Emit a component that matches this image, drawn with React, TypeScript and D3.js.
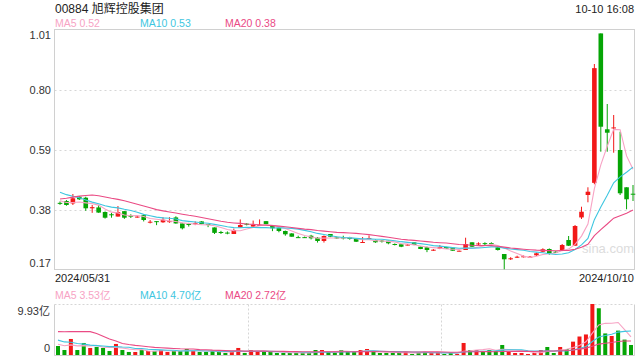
import React from "react";
import * as d3 from "d3";

const title = "00884 旭辉控股集团";
const timeLabel = "10-10 16:08";
const dateLabels = ["2024/05/31", "2024/10/10"];
const priceTicks = [1.01, 0.8, 0.59, 0.38, 0.17];
const priceLegend = ["MA5 0.52", "MA10 0.53", "MA20 0.38"];
const volLegend = ["MA5 3.53亿", "MA10 4.70亿", "MA20 2.72亿"];
const volTickLabels = ["9.93亿", "0"];
const volMax = 9.93;

const opens = [0.405,0.4115,0.403,0.4265,0.423,0.386,0.389,0.373,0.365,0.357,0.376,0.36,0.355,0.362,0.337,0.341,0.337,0.339,0.354,0.333,0.331,0.332,0.34,0.331,0.319,0.303,0.301,0.296,0.319,0.332,0.322,0.326,0.341,0.325,0.318,0.3065,0.298,0.285,0.285,0.29,0.283,0.2715,0.296,0.284,0.284,0.284,0.2785,0.266,0.28,0.275,0.273,0.2725,0.261,0.26,0.257,0.267,0.2515,0.2495,0.239,0.2445,0.2505,0.248,0.236,0.24,0.267,0.262,0.264,0.264,0.2495,0.226,0.209,0.215,0.217,0.2155,0.2215,0.234,0.2435,0.234,0.24,0.275,0.255,0.354,0.4325,0.475,0.998,0.6625,0.667,0.59,0.4595,0.437];
const closes = [0.403,0.3975,0.421,0.4175,0.386,0.39,0.371,0.353,0.362,0.373,0.353,0.358,0.357,0.345,0.339,0.339,0.346,0.341,0.333,0.316,0.329,0.334,0.331,0.329,0.3,0.301,0.299,0.31,0.3275,0.33,0.3275,0.328,0.33,0.316,0.3065,0.295,0.2865,0.283,0.283,0.281,0.2715,0.289,0.2865,0.282,0.282,0.2785,0.269,0.268,0.282,0.267,0.271,0.2635,0.259,0.2515,0.259,0.2575,0.2435,0.24,0.241,0.2505,0.2445,0.2375,0.2375,0.261,0.2515,0.263,0.262,0.262,0.24,0.2075,0.211,0.2165,0.218,0.2165,0.2285,0.2425,0.2285,0.2325,0.2575,0.255,0.324,0.374,0.444,0.8765,0.6715,0.6505,0.669,0.4385,0.4175,0.436];
const highs = [0.41,0.415,0.436,0.4285,0.4265,0.3975,0.3975,0.375,0.37,0.394,0.376,0.365,0.362,0.365,0.345,0.341,0.355,0.355,0.358,0.335,0.335,0.34,0.341,0.331,0.319,0.307,0.305,0.315,0.347,0.334,0.343,0.347,0.341,0.327,0.319,0.308,0.299,0.29,0.287,0.293,0.285,0.291,0.296,0.287,0.29,0.286,0.28,0.2855,0.291,0.277,0.275,0.2725,0.263,0.26,0.261,0.267,0.252,0.252,0.243,0.2575,0.251,0.249,0.238,0.283,0.267,0.267,0.267,0.267,0.2505,0.226,0.215,0.22,0.221,0.219,0.231,0.246,0.2455,0.236,0.261,0.289,0.3275,0.3915,0.4595,0.891,0.998,0.751,0.7125,0.654,0.4595,0.4675];
const lows = [0.398,0.395,0.3975,0.415,0.377,0.37,0.37,0.35,0.353,0.357,0.349,0.352,0.353,0.34,0.333,0.327,0.335,0.335,0.332,0.312,0.322,0.327,0.33,0.32,0.296,0.296,0.295,0.296,0.319,0.326,0.322,0.325,0.329,0.306,0.302,0.29,0.2865,0.282,0.282,0.277,0.266,0.266,0.285,0.279,0.277,0.276,0.268,0.265,0.279,0.265,0.266,0.26,0.256,0.25,0.256,0.257,0.243,0.2325,0.237,0.243,0.244,0.237,0.235,0.24,0.2505,0.255,0.255,0.258,0.238,0.1725,0.205,0.212,0.214,0.213,0.219,0.232,0.2235,0.23,0.239,0.254,0.255,0.3485,0.407,0.47,0.584,0.584,0.5805,0.4325,0.3825,0.4115];
const volumes = [1.75,0.97,3.12,0.97,2.34,1.37,1.56,1.37,0.78,2.15,0.97,0.59,0.59,0.97,0.78,0.78,0.97,0.59,0.78,0.78,1.17,0.78,0.59,0.59,0.78,0.59,0.39,0.59,1.37,0.39,0.97,0.78,0.59,0.59,0.39,0.39,0.39,0.39,0.39,0.39,0.97,0.97,0.59,0.39,0.97,0.59,0.59,0.97,1.17,0.78,0.39,0.39,0.39,0.39,0.59,0.2,0.39,0.59,0.39,0.59,0.2,0.39,0.2,2.34,0.97,0.97,0.78,0.97,0.78,1.95,0.78,0.39,0.39,0.2,0.39,0.97,1.56,0.39,1.56,1.17,2.6,3.6,4.0,9.93,9.1,4.2,3.7,4.75,3.0,1.95];
// sessions before 2024/05/31, estimated so the moving averages start where the picture shows
const priorCloses = [0.34,0.345,0.35,0.345,0.35,0.43,0.44,0.45,0.445,0.455,0.48,0.475,0.47,0.465,0.467,0.43,0.42,0.41,0.4];
const priorVolumes = [1.6,1.8,1.7,1.9,1.77,9,12,11,10.2,11,4.5,3.8,3.5,3.4,3.3,2.5,2.2,2.0,2.05];

const RED = "#f21818";
const GREEN = "#05a505";
const MA_COLORS = ["#f7a3c4", "#3ec6e0", "#ea4a84"];
const MA_N = [5, 10, 20];
const FONT = "Arial, 'Liberation Sans', 'Noto Sans CJK SC', sans-serif";

function movingAvg(prior: number[], vals: number[], n: number): number[] {
  const all = prior.concat(vals);
  return vals.map((_, i) => {
    const end = prior.length + i;
    return d3.mean(all.slice(end - n + 1, end + 1)) as number;
  });
}

export default function App() {
  const W = 640, H = 360;
  const left = 54.5, right = 634.5, top = 29.5, bottom = 269.5;
  const vTop = 304.5, vBottom = 355.5;
  const n = closes.length;
  const x = d3.scaleLinear().domain([0, n - 1]).range([60, 633]);
  const y = d3.scaleLinear().domain([0.17, 1.01]).range([270, 30]);
  const yv = d3.scaleLinear().domain([0, volMax]).range([355, 304]);
  const bw = 4.6;

  const priceLine = d3.line<number>().x((_, i) => x(i)).y((d) => y(d));
  const volLine = d3.line<number>().x((_, i) => x(i) - 2).y((d) => yv(d));

  const priceMAs = MA_N.map((k) => movingAvg(priorCloses, closes, k));
  const volMAs = MA_N.map((k) => movingAvg(priorVolumes, volumes, k));

  const legendX = [55, 140, 225];
  const grid = "#d6d6d6";

  return (
    <svg width={W} height={H} style={{ position: "absolute", left: 0, top: 0, fontFamily: FONT }}>
      <rect x={0} y={0} width={W} height={H} fill="#fff" />
      <text x={55} y={13} fontSize={12} fill="#222">{title}</text>
      <text x={634} y={13} fontSize={11} fill="#222" textAnchor="end">{timeLabel}</text>
      {priceLegend.map((t, i) => (
        <text key={t} x={legendX[i]} y={27} fontSize={10.5} fill={MA_COLORS[i]}>{t}</text>
      ))}

      {/* price grid */}
      {priceTicks.slice(1, -1).map((t) => (
        <line key={t} x1={left} x2={right} y1={Math.round(y(t)) + 0.5} y2={Math.round(y(t)) + 0.5} stroke={grid} strokeDasharray="2,3" />
      ))}
      <rect x={left} y={top} width={right - left} height={bottom - top} fill="none" stroke="#d0d0d0" />
      {priceTicks.map((t, i) => {
        const yy = y(t);
        const dy = i === 0 ? 9 : i === priceTicks.length - 1 ? -3 : 4;
        return (
          <text key={t} x={51} y={yy + dy} fontSize={11} fill="#333" textAnchor="end">{t.toFixed(2)}</text>
        );
      })}

      <text x={582} y={253} fontSize={13} fill="#dcdcdc">sina.com</text>

      {/* candles */}
      {closes.map((c, i) => {
        const o = opens[i];
        const up = c >= o;
        const col = up ? RED : GREEN;
        const cx = x(i);
        const yTop = y(Math.max(o, c));
        const yBot = y(Math.min(o, c));
        const h = Math.max(1, yBot - yTop);
        return (
          <g key={i}>
            <line x1={cx} x2={cx} y1={y(highs[i])} y2={y(lows[i])} stroke={col} strokeWidth={1} />
            <rect x={cx - bw / 2} y={yTop} width={bw} height={h} fill={col} />
          </g>
        );
      })}

      {priceMAs.map((m, i) => (
        <path key={i} d={priceLine(m) || ""} fill="none" stroke={MA_COLORS[i]} strokeWidth={1.1} />
      ))}

      {dateLabels.map((t, i) => (
        <text key={t} x={i === 0 ? 55 : 634} y={282} fontSize={11} fill="#222" textAnchor={i === 0 ? "start" : "end"}>{t}</text>
      ))}

      {/* volume panel */}
      {volLegend.map((t, i) => (
        <text key={t} x={legendX[i]} y={299} fontSize={10.5} fill={MA_COLORS[i]}>{t}</text>
      ))}
      <line x1={left} x2={right} y1={vTop} y2={vTop} stroke={grid} strokeDasharray="2,2" />
      {[1, 2].map((k) => {
        const xx = Math.round(left + ((right - left) * k) / 3) + 0.5;
        return <line key={k} x1={xx} x2={xx} y1={vTop} y2={vBottom} stroke={grid} strokeDasharray="2,2" />;
      })}
      <line x1={left} x2={left} y1={vTop} y2={vBottom} stroke="#d0d0d0" />
      <line x1={right} x2={right} y1={vTop} y2={vBottom} stroke="#d0d0d0" />
      <line x1={left} x2={right} y1={vBottom} y2={vBottom} stroke="#d0d0d0" />
      <text x={50} y={315} fontSize={11} fill="#333" textAnchor="end">{volTickLabels[0]}</text>
      <text x={50} y={352} fontSize={11} fill="#333" textAnchor="end">{volTickLabels[1]}</text>

      {volumes.map((v, i) => {
        const up = closes[i] >= opens[i];
        const h = Math.max(1, yv(0) - yv(v));
        return <rect key={i} x={x(i) - 4} y={yv(0) - h} width={4} height={h} fill={up ? RED : GREEN} />;
      })}
      {volMAs.map((m, i) => (
        <path key={i} d={volLine(m) || ""} fill="none" stroke={MA_COLORS[i]} strokeWidth={1.1} />
      ))}
    </svg>
  );
}
